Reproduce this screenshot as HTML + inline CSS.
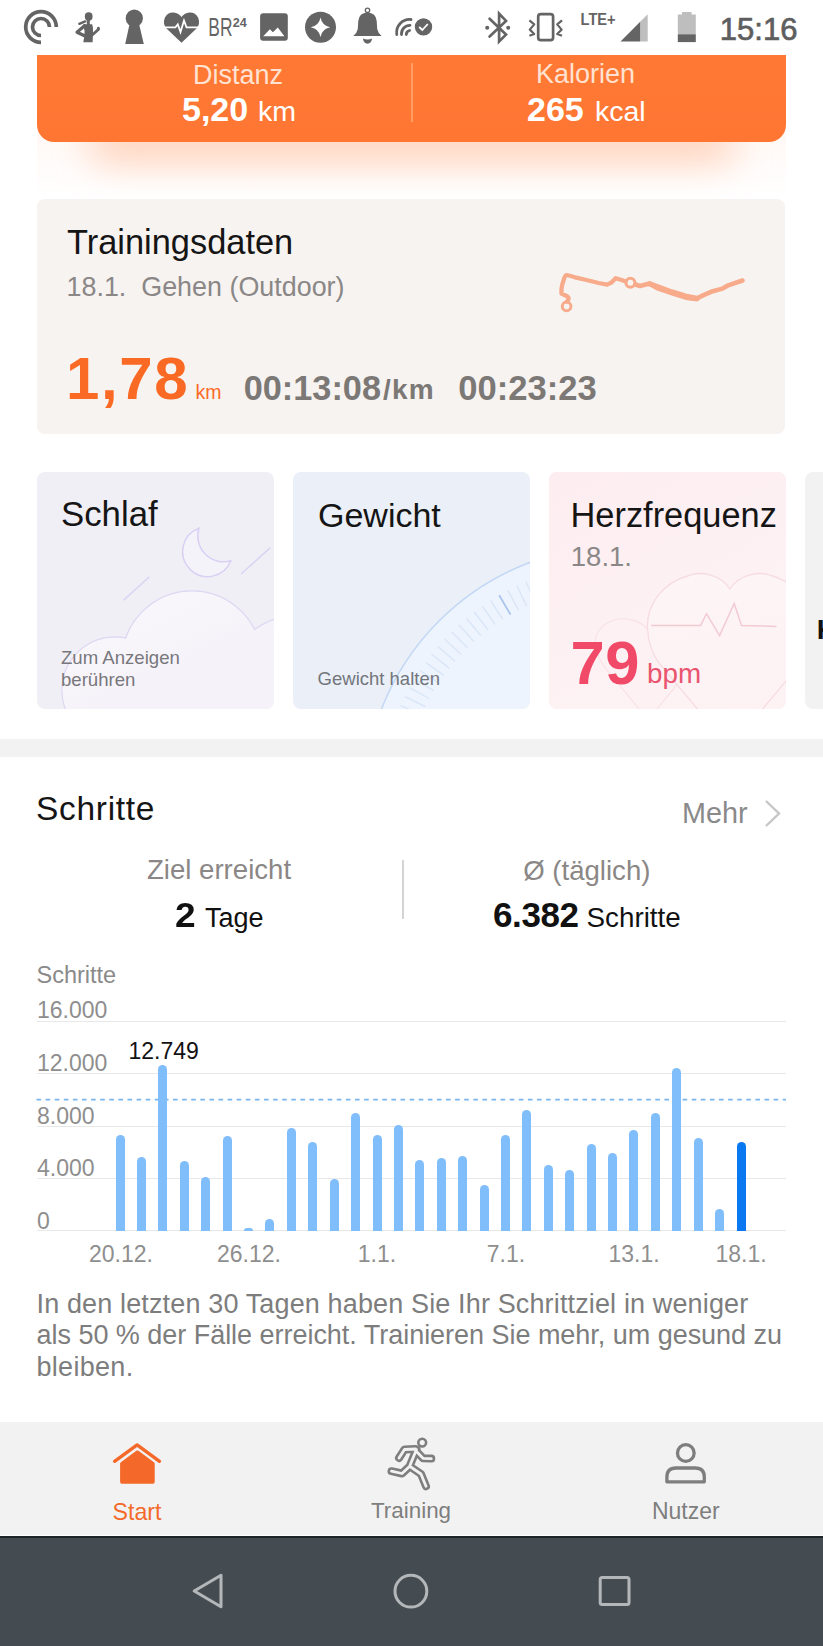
<!DOCTYPE html>
<html><head><meta charset="utf-8">
<style>
*{margin:0;padding:0;box-sizing:border-box}
html,body{width:823px;height:1646px;overflow:hidden;background:#fff;font-family:"Liberation Sans",sans-serif}
.a{position:absolute;white-space:nowrap;line-height:1}
.c{transform:translateX(-50%)}
#status{position:absolute;left:0;top:0;width:823px;height:55px;background:#fff}
#orange{position:absolute;left:37px;top:40px;width:749px;height:102px;border-radius:0 0 17px 17px;background:linear-gradient(180deg,#ff7a35,#ff7633)}
#oshadow{position:absolute;left:60px;top:120px;width:700px;height:50px;border-radius:30px;background:rgba(255,140,80,0.35);filter:blur(18px)}
#train{position:absolute;left:37px;top:198.5px;width:748px;height:235.5px;border-radius:8px;background:#f7f3f1}
.card{position:absolute;top:472px;width:237px;height:237px;border-radius:8px;overflow:hidden}
#band{position:absolute;left:0;top:739px;width:823px;height:18px;background:#f2f2f2}
#nav{position:absolute;left:0;top:1422px;width:823px;height:114px;background:#f2f2f2;border-bottom:1px solid #fff}
#sys{position:absolute;left:0;top:1536px;width:823px;height:110px;background:#454c51;border-top:2px solid #1f2427}
.lbl{color:#ffe2d2;font-size:27px}
.val{color:#fff;font-weight:bold;font-size:33px}
.unit{color:#fff;font-size:27px}
.t34{font-size:34px;color:#151515}
.g{color:#8a8786}
.bar{position:absolute;width:9px;border-radius:4.5px 4.5px 0 0;background:#80bdfb}
.gl{position:absolute;left:37px;width:749px;height:1px;background:#e8e8e8}
.yl{font-size:23px;color:#8e8e8e}
.nl{font-size:22.4px;color:#7e7e7e}
</style></head>
<body>
<div style="position:absolute;left:37px;top:130px;width:749px;height:66px;overflow:hidden;background:linear-gradient(180deg,#fff9f6 10%,#fffdfc 75%,#fff)"><div style="position:absolute;left:50px;top:-10px;width:650px;height:44px;border-radius:22px;background:rgba(255,160,110,0.42);filter:blur(18px)"></div></div>
<div id="orange"></div>
<div id="status"><svg style="position:absolute;left:0;top:0" width="823" height="55" viewBox="0 0 823 55">
<g fill="#646464" stroke="none">
<!-- pocket casts -->
<path d="M41 42.3 A15.3 15.3 0 1 1 56.3 27" fill="none" stroke="#646464" stroke-width="3.7"/>
<path d="M41 35.5 A8.5 8.5 0 1 1 49.5 27" fill="none" stroke="#646464" stroke-width="3.7"/>
<!-- woman runner -->
<ellipse cx="88.7" cy="16.5" rx="3.9" ry="4.2"/>
<rect x="86.8" y="19.5" width="3" height="5.5"/>
<path d="M85.2 21.4 L79.3 23.8" stroke="#646464" stroke-width="2.4" stroke-linecap="round"/>
<path d="M83.3 24.3 L92.2 24.3 Q93.4 28 93 33 L92.6 42.2 L83.3 42.2 L84.2 37 L84.6 31.5 Z"/>
<path d="M84.5 25.8 L77 32.2 L85 36" fill="none" stroke="#646464" stroke-width="3.2" stroke-linejoin="round" stroke-linecap="round"/>
<path d="M92.5 34.8 L97.8 30" stroke="#646464" stroke-width="2.8" stroke-linecap="round"/>
<ellipse cx="98.4" cy="28.7" rx="1.6" ry="2"/>
<!-- keyhole -->
<circle cx="134.3" cy="18.2" r="8.6"/>
<path d="M130 22 L138.6 22 L143.8 43.9 L125.2 43.9 Z"/>
<!-- heart pulse -->
<path d="M181.5 42.7 L166.5 28.5 Q162.5 24 164.8 17.8 Q167.5 12.3 173.5 12.5 Q178.5 12.8 181.5 17 Q184.5 12.8 189.5 12.5 Q195.5 12.3 198.2 17.8 Q200.5 24 196.5 28.5 Z"/>
<path d="M163 27.3 L175.5 27.3 L177.8 24.3 L180.5 32 L184 20.5 L186.5 27.3 L200 27.3" fill="none" stroke="#fff" stroke-width="1.8" stroke-linejoin="miter"/>
<!-- image -->
<rect x="260.1" y="13.3" width="27.7" height="27.5" rx="3"/>
<path d="M263.2 36.3 L269.9 29.3 L272.9 32.2 L277.8 27.5 L284.4 36.3 Z" fill="#fff"/>
<!-- star circle -->
<circle cx="320.5" cy="27.2" r="15.5"/>
<path d="M320.5 17.5 Q322 25.7 330.2 27.2 Q322 28.7 320.5 36.9 Q319 28.7 310.8 27.2 Q319 25.7 320.5 17.5 Z" fill="#fff"/>
<!-- bell -->
<circle cx="367.5" cy="10.3" r="2.2" fill="none" stroke="#646464" stroke-width="1.3"/>
<path d="M367.5 12.5 Q359 12.8 358.3 21 L357.8 29 Q357 33 353.3 36 L381.6 36 Q378 33 377.2 29 L376.7 21 Q376 12.8 367.5 12.5 Z"/>
<path d="M362.8 38.6 Q367.5 40.5 372.2 38.6 Q371 43.8 367.5 43.8 Q364 43.8 362.8 38.6 Z"/>
<!-- wifi check -->
<path d="M396.8 34.5 A13 13 0 0 1 411 19.5 M401.5 34.5 A8.5 8.5 0 0 1 410 25.3 M406.3 34.5 A4.2 4.2 0 0 1 409.6 30.5" fill="none" stroke="#646464" stroke-width="2.8" stroke-linecap="round"/>
<circle cx="423.5" cy="26.9" r="8.7"/>
<path d="M419.2 27 L422.3 30 L427.8 24" fill="none" stroke="#fff" stroke-width="1.8"/>
<!-- bluetooth -->
<path d="M489.6 18.8 L506 34.6 L499.1 41.4 L499.1 13.6 L506 20.9 L489.6 36.6" fill="none" stroke="#646464" stroke-width="2.7" stroke-linejoin="miter" stroke-linecap="round"/>
<circle cx="487.2" cy="27.7" r="2"/><circle cx="508.2" cy="27.7" r="2"/>
<!-- vibrate -->
<rect x="538.2" y="14.2" width="14.9" height="25.9" rx="2.6" fill="none" stroke="#646464" stroke-width="2.7"/>
<path d="M529.4 20.3 L534.2 24.4 L529.8 29.6 L534.2 34 L529.4 35.8 M562 20.3 L557.2 24.4 L561.6 29.6 L557.2 34 L562 35.8" fill="none" stroke="#646464" stroke-width="2.2" stroke-linejoin="round"/>
<!-- signal -->
<path d="M640.2 21.7 L647.7 14.2 L647.7 41.5 L640.2 41.5 Z" fill="#bebebe"/>
<path d="M620.5 41.5 L640.2 21.7 L640.2 41.5 Z"/>
<!-- battery -->
<rect x="682" y="12" width="9.6" height="3" fill="#bebebe"/>
<rect x="677.8" y="14.5" width="18" height="20" fill="#bebebe"/>
<rect x="677.8" y="34.3" width="18" height="7.8"/>
</g>
<text x="580.6" y="24.9" font-family="Liberation Sans" font-weight="bold" font-size="17" fill="#646464" textLength="35" lengthAdjust="spacingAndGlyphs">LTE+</text>
<text x="208.3" y="36" font-family="Liberation Sans" font-size="26" fill="#646464" textLength="24.2" lengthAdjust="spacingAndGlyphs">BR</text>
<text x="232.8" y="26.9" font-family="Liberation Sans" font-weight="bold" font-size="12.6" fill="#646464">24</text>
<text x="719.8" y="39.7" font-family="Liberation Sans" font-size="31" fill="#5e5e5e" stroke="#5e5e5e" stroke-width="0.7">15:16</text>
</svg></div>

<!-- orange card text; baseline = top + 0.8465*fs -->
<div class="a lbl c" style="left:238px;top:61.6px">Distanz</div>
<div class="a val" style="left:182px;top:92.3px;font-size:34px">5,20</div><div class="a unit" style="left:258px;top:97.2px;font-size:28.5px">km</div>
<div class="a lbl c" style="left:585.5px;top:61.4px">Kalorien</div>
<div class="a val" style="left:527px;top:92.2px;font-size:34px">265</div><div class="a unit" style="left:595px;top:96.6px;font-size:28.5px">kcal</div>
<div style="position:absolute;left:411.3px;top:62.8px;width:1.5px;height:59.4px;background:#ff9d62"></div>

<div id="train"></div>
<svg style="position:absolute;left:0;top:0" width="823" height="440" viewBox="0 0 823 440">
<g fill="none" stroke="#f7ab8b" stroke-linecap="round" stroke-linejoin="round">
<path d="M567 301.5 Q570 298 567.5 296.5 L561.5 293.5 Q561 289 562.3 284.3 L564.3 278 Q565.5 274.5 568 275.3 L575 277.3 L586.5 280 L598.6 283 L607 284.6 L611.5 282.5 L615.6 278.2 L621 279.8 L625.6 281.6" stroke-width="4.3"/>
<path d="M635.4 284.5 L640 286 L649.6 283.6 L657 288 L671.5 293 L686 297.6 L695.8 299 L703 295.4 L712.8 291.2 L722.5 288.6 L727.4 285.7 L742.5 280.5" stroke-width="4.6"/>
<path d="M650 284 L671.5 292 L686 296.5 L697 298.5" stroke-width="5.6"/>
<circle cx="566.6" cy="306.4" r="4.3" stroke-width="3"/>
<circle cx="630.4" cy="282.7" r="4.5" stroke-width="3"/>
</g></svg>
<div class="a t34" style="left:67px;top:224.8px;font-size:34.4px">Trainingsdaten</div>
<div class="a g" style="left:66.5px;top:273.5px;font-size:26.9px;white-space:pre">18.1.  Gehen (Outdoor)</div>
<div class="a" style="left:66px;top:348.5px;font-size:60px;font-weight:bold;color:#fb6a25;letter-spacing:1.6px">1,78</div>
<div class="a" style="left:195.5px;top:383px;font-size:19.5px;color:#fb6a25">km</div>
<div class="a" style="left:243.7px;top:371px;font-size:34.3px;font-weight:bold;color:#7b7876">00:13:08</div><div class="a" style="left:383px;top:376.2px;font-size:28px;font-weight:bold;color:#7b7876;letter-spacing:1.2px">/km</div>
<div class="a" style="left:458.3px;top:371px;font-size:34.6px;font-weight:bold;color:#7b7876">00:23:23</div>

<div class="card" style="left:37px;background:#f1eff6"><svg width="237" height="237" style="position:absolute;left:0;top:0">
<defs><linearGradient id="cg" gradientUnits="userSpaceOnUse" x1="0" y1="110" x2="60" y2="237"><stop offset="0" stop-color="#fbfafd"/><stop offset="1" stop-color="#f5f3f9"/></linearGradient></defs>
<g stroke="#dfd8f3" stroke-width="1.4" fill="url(#cg)">
<circle cx="263" cy="221" r="78"/>
<circle cx="78" cy="218" r="53"/>
<circle cx="155" cy="189" r="70"/>
</g>
<g fill="url(#cg)" stroke="none">
<circle cx="263" cy="221" r="77.3"/>
<circle cx="78" cy="218" r="52.3"/>
<circle cx="155" cy="189" r="69.3"/>
</g>
<path d="M86.6 128.2 L112.3 104.9 M204.1 102.0 L233.3 75.7" stroke="#dcd5f2" stroke-width="1.6" fill="none"/>
<path d="M161.9 56.2 A25 25 0 1 0 193.9 88.8 A26 26 0 0 1 161.9 56.2 Z" fill="#f5f3fa" stroke="#d9d0f4" stroke-width="1.5"/>
</svg></div>
<div class="card" style="left:293px;background:#ebf0f8"><svg width="237" height="237" style="position:absolute;left:0;top:0">
<circle cx="327" cy="330" r="256" fill="#eef4fd" stroke="#c3d8f4" stroke-width="1.6"/>
<path d="M103.9 243.0 L124.8 251.2 M107.7 233.7 L128.3 242.8 M111.9 224.6 L132.1 234.5 M116.5 215.7 L136.3 226.5 M121.5 207.0 L140.8 218.6 M126.8 198.5 L145.6 210.9 M132.5 190.2 L150.8 203.4 M138.5 182.2 L156.2 196.1 M144.9 174.5 L162.0 189.1 M151.6 167.0 L168.0 182.3 M158.5 159.8 L174.4 175.8 M165.8 152.9 L181.0 169.5 M173.4 146.3 L187.8 163.5 M181.2 140.0 L194.9 157.8 M189.3 134.1 L202.2 152.5 M197.6 128.5 L209.8 147.4 M214.9 118.3 L225.5 138.2 M223.9 113.8 L233.6 134.1 M233.0 109.7 L241.9 130.4 M242.3 106.0 L250.3 127.0 M251.8 102.6 L258.9 124.0 M261.4 99.7 L267.6 121.3 M271.1 97.1 L276.3 119.0" stroke="#d9e6f7" stroke-width="1.4" fill="none"/><path d="M206.2 123.2 L217.5 142.6" stroke="#a9c5ec" stroke-width="1.8" fill="none"/>
</svg></div>
<div class="card" style="left:549px;background:#fdeef0"><svg width="237" height="237" style="position:absolute;left:0;top:0">
<defs><linearGradient id="hg" x1="0" y1="0" x2="0.2" y2="1"><stop offset="0" stop-color="#fdf5f6"/><stop offset="1" stop-color="#fdf1f3"/></linearGradient>
<linearGradient id="hbg" x1="0" y1="0" x2="0.6" y2="1"><stop offset="0" stop-color="#fdedf0"/><stop offset="1" stop-color="#fdf3f5"/></linearGradient></defs>
<rect width="237" height="237" fill="url(#hbg)"/>
<path d="M 99.0 158.0 C 92.0 149.0 79.0 145.0 67.0 147.5 C 54.0 151.0 46.0 160.0 46.5 170.0 C 47.0 180.0 50.0 188.0 57.0 197.0 L 99.0 248.0 L 141.0 197.0 C 148.0 188.0 151.0 180.0 151.5 170.0 C 152.0 160.0 144.0 151.0 131.0 147.5 C 119.0 145.0 106.0 149.0 99.0 158.0 Z" fill="#fdf1f3" stroke="#f8e2e6" stroke-width="1.2"/>
<path d="M 180.8 117.0 C 171.0 102.0 151.0 99.0 140.0 103.5 C 113.0 111.0 97.5 133.0 98.5 156.0 C 99.0 169.0 102.0 180.0 110.0 191.0 L 181.0 276.0 L 252.0 191.0 C 260.0 180.0 263.0 169.0 263.5 156.0 C 264.5 133.0 249.0 111.0 222.0 103.5 C 211.0 99.0 191.0 102.0 180.8 117.0 Z" fill="url(#hg)" stroke="#f6dce1" stroke-width="1.3"/>
<path d="M 102.0 153.4 L 151.6 153.4 L 157.5 141.7 L 170.6 163.6 L 185.2 131.5 L 192.5 153.4 L 227.5 154.5" fill="none" stroke="#f2cad2" stroke-width="1.5"/>
</svg></div>
<div class="card" style="left:805.3px;background:#f2f2f2"></div>

<div class="a t34" style="left:61px;top:497.2px;font-size:34.8px">Schlaf</div>
<div class="a" style="left:61px;top:647.4px;font-size:18.6px;line-height:21.4px;color:#78777c">Zum Anzeigen<br>berühren</div>
<div class="a t34" style="left:318px;top:497.7px">Gewicht</div>
<div class="a" style="left:317.6px;top:670px;font-size:18.5px;color:#72767c">Gewicht halten</div>
<div class="a t34" style="left:570.5px;top:497.5px;font-size:34.4px">Herzfrequenz</div>
<div class="a g" style="left:570.8px;top:543px;font-size:27.5px">18.1.</div>
<div class="a" style="left:570.5px;top:632px;font-size:61.5px;font-weight:bold;color:#f04a68;letter-spacing:0.5px">79</div>
<div class="a" style="left:647px;top:660px;font-size:27.8px;color:#e9546f">bpm</div>
<div class="a" style="left:816.7px;top:616px;font-size:28px;font-weight:bold;color:#111">K</div>

<div id="band"></div>

<div class="a t34" style="left:36px;top:791.5px;font-size:33.5px;letter-spacing:0.7px">Schritte</div>
<div class="a" style="left:682px;top:799.2px;font-size:28.8px;color:#8a8a8a">Mehr</div>
<svg style="position:absolute;left:762px;top:798px" width="22" height="32"><path d="M4 3 L17 15.5 L4 28" fill="none" stroke="#c6c6c6" stroke-width="2.4"/></svg>
<div class="a c g" style="left:219px;top:856.1px;font-size:27.6px">Ziel erreicht</div>
<div class="a" style="left:175.3px;top:897.3px;color:#111;font-size:35px;font-weight:bold;transform:scaleX(1.06);transform-origin:0 0">2</div><div class="a" style="left:205px;top:904.6px;color:#111;font-size:27px">Tage</div>
<div style="position:absolute;left:402px;top:860px;width:2px;height:59px;background:#d4d4d4"></div>
<div class="a c g" style="left:586.8px;top:857px;font-size:27.6px">Ø (täglich)</div>
<div class="a" style="left:493px;top:897.2px;color:#111;font-size:35px;font-weight:bold;letter-spacing:-0.4px">6.382</div><div class="a" style="left:586.5px;top:904.3px;color:#111;font-size:27.8px">Schritte</div>

<!-- chart -->
<div class="a" style="left:36.5px;top:964.4px;font-size:23.5px;color:#8a8a8a">Schritte</div>
<div class="gl" style="top:1021px"></div>
<div class="gl" style="top:1073px"></div>
<div class="gl" style="top:1126px"></div>
<div class="gl" style="top:1178px"></div>
<div class="gl" style="top:1230px"></div>
<div class="a yl" style="left:37px;top:999.4px">16.000</div>
<div class="a yl" style="left:37px;top:1052px">12.000</div>
<div class="a yl" style="left:37px;top:1104.6px">8.000</div>
<div class="a yl" style="left:37px;top:1157px">4.000</div>
<div class="a yl" style="left:37px;top:1209.5px">0</div>
<svg style="position:absolute;left:0;top:1090px" width="823" height="20"><line x1="36.5" y1="9.6" x2="786" y2="9.6" stroke="#7ab5ec" stroke-width="1.8" stroke-dasharray="4.6 4.5"/></svg>
<div class="a" style="left:128.5px;top:1039.5px;font-size:23px;color:#111">12.749</div>
<div class="bar" style="left:115.5px;top:1135.0px;height:95.5px"></div>
<div class="bar" style="left:136.9px;top:1156.5px;height:74.0px"></div>
<div class="bar" style="left:158.3px;top:1065.0px;height:165.5px"></div>
<div class="bar" style="left:179.7px;top:1161.0px;height:69.5px"></div>
<div class="bar" style="left:201.2px;top:1176.5px;height:54.0px"></div>
<div class="bar" style="left:222.6px;top:1136.0px;height:94.5px"></div>
<div class="bar" style="left:244.0px;top:1227.5px;height:3.0px"></div>
<div class="bar" style="left:265.4px;top:1219.0px;height:11.5px"></div>
<div class="bar" style="left:286.8px;top:1128.0px;height:102.5px"></div>
<div class="bar" style="left:308.2px;top:1142.0px;height:88.5px"></div>
<div class="bar" style="left:329.6px;top:1179.0px;height:51.5px"></div>
<div class="bar" style="left:351.1px;top:1112.5px;height:118.0px"></div>
<div class="bar" style="left:372.5px;top:1135.0px;height:95.5px"></div>
<div class="bar" style="left:393.9px;top:1125.0px;height:105.5px"></div>
<div class="bar" style="left:415.3px;top:1160.0px;height:70.5px"></div>
<div class="bar" style="left:436.7px;top:1157.5px;height:73.0px"></div>
<div class="bar" style="left:458.1px;top:1155.5px;height:75.0px"></div>
<div class="bar" style="left:479.5px;top:1184.5px;height:46.0px"></div>
<div class="bar" style="left:501.0px;top:1135.0px;height:95.5px"></div>
<div class="bar" style="left:522.4px;top:1110.0px;height:120.5px"></div>
<div class="bar" style="left:543.8px;top:1165.0px;height:65.5px"></div>
<div class="bar" style="left:565.2px;top:1170.0px;height:60.5px"></div>
<div class="bar" style="left:586.6px;top:1144.0px;height:86.5px"></div>
<div class="bar" style="left:608.0px;top:1152.5px;height:78.0px"></div>
<div class="bar" style="left:629.4px;top:1130.0px;height:100.5px"></div>
<div class="bar" style="left:650.9px;top:1113.0px;height:117.5px"></div>
<div class="bar" style="left:672.3px;top:1067.5px;height:163.0px"></div>
<div class="bar" style="left:693.7px;top:1137.5px;height:93.0px"></div>
<div class="bar" style="left:715.1px;top:1209.0px;height:21.5px"></div>
<div class="bar" style="left:736.5px;top:1141.5px;height:89.0px;background:#0a78f0"></div>

<div class="a c yl" style="left:121px;top:1243.3px">20.12.</div>
<div class="a c yl" style="left:249px;top:1243.3px">26.12.</div>
<div class="a c yl" style="left:377px;top:1243.3px">1.1.</div>
<div class="a c yl" style="left:506px;top:1243.3px">7.1.</div>
<div class="a c yl" style="left:634px;top:1243.3px">13.1.</div>
<div class="a c yl" style="left:741px;top:1243.3px">18.1.</div>

<div class="a" style="left:36.5px;top:1290.5px;font-size:27px;color:#7d7d7d;letter-spacing:0.14px">In den letzten 30 Tagen haben Sie Ihr Schrittziel in weniger</div>
<div class="a" style="left:36.5px;top:1322.1px;font-size:27px;color:#7d7d7d;letter-spacing:-0.03px">als 50 % der Fälle erreicht. Trainieren Sie mehr, um gesund zu</div>
<div class="a" style="left:36.5px;top:1353.7px;font-size:27px;color:#7d7d7d;letter-spacing:0.3px">bleiben.</div>

<div id="nav"></div>
<div class="a c" style="left:137px;top:1500.8px;font-size:23.2px;color:#f46a2b">Start</div>
<div class="a c nl" style="left:411px;top:1500.3px">Training</div>
<div class="a c nl" style="left:685.8px;top:1499.6px;font-size:23px">Nutzer</div>
<div id="sys"></div>
<svg style="position:absolute;left:0;top:1422px" width="823" height="114" viewBox="0 1422 823 114">
<path d="M114.6 1461.3 L137.1 1444.9 L159.5 1461.3" fill="none" stroke="#f4692a" stroke-width="3.4" stroke-linecap="round" stroke-linejoin="round"/>
<path d="M121.9 1463.6 L137.4 1452.3 L152.9 1463.6 L152.9 1481.9 L121.9 1481.9 Z" fill="#f4692a" stroke="#f4692a" stroke-width="3.6" stroke-linejoin="round"/>
<path d="M416.5 1449.5 L409.5 1466.5 M415.5 1449 L404.5 1449.5 L399 1458 M417 1452 L423 1458.3 L431.3 1458.6 M409.5 1466.5 L402 1473.5 L391.5 1471.2 M410 1466.5 L421 1474 L426 1486.3" fill="none" stroke="#7e7e7e" stroke-width="8" stroke-linecap="round" stroke-linejoin="round"/>
<path d="M416.5 1449.5 L409.5 1466.5 M415.5 1449 L404.5 1449.5 L399 1458 M417 1452 L423 1458.3 L431.3 1458.6 M409.5 1466.5 L402 1473.5 L391.5 1471.2 M410 1466.5 L421 1474 L426 1486.3" fill="none" stroke="#f2f2f2" stroke-width="2.8" stroke-linecap="round" stroke-linejoin="round"/>
<circle cx="422.2" cy="1442.6" r="3.9" fill="#f2f2f2" stroke="#7e7e7e" stroke-width="2.6"/>
<circle cx="685.8" cy="1453" r="8.35" fill="none" stroke="#7e7e7e" stroke-width="3.3"/>
<path d="M666.9 1481.8 L666.9 1477 Q666.9 1468 676 1468 L695.2 1468 Q704.3 1468 704.3 1477 L704.3 1481.8 Z" fill="none" stroke="#7e7e7e" stroke-width="3.3" stroke-linejoin="round"/>
</svg>
<svg style="position:absolute;left:0;top:1536px" width="823" height="110" viewBox="0 1536 823 110">
<path d="M221 1575.3 L221 1606.7 L194.2 1591 Z" fill="none" stroke="#b4b7b9" stroke-width="3" stroke-linejoin="round"/>
<circle cx="410.9" cy="1591.2" r="15.9" fill="none" stroke="#b4b7b9" stroke-width="3"/>
<rect x="600.2" y="1577.6" width="28.8" height="26.8" rx="2" fill="none" stroke="#b4b7b9" stroke-width="3"/>
</svg>
</body></html>
